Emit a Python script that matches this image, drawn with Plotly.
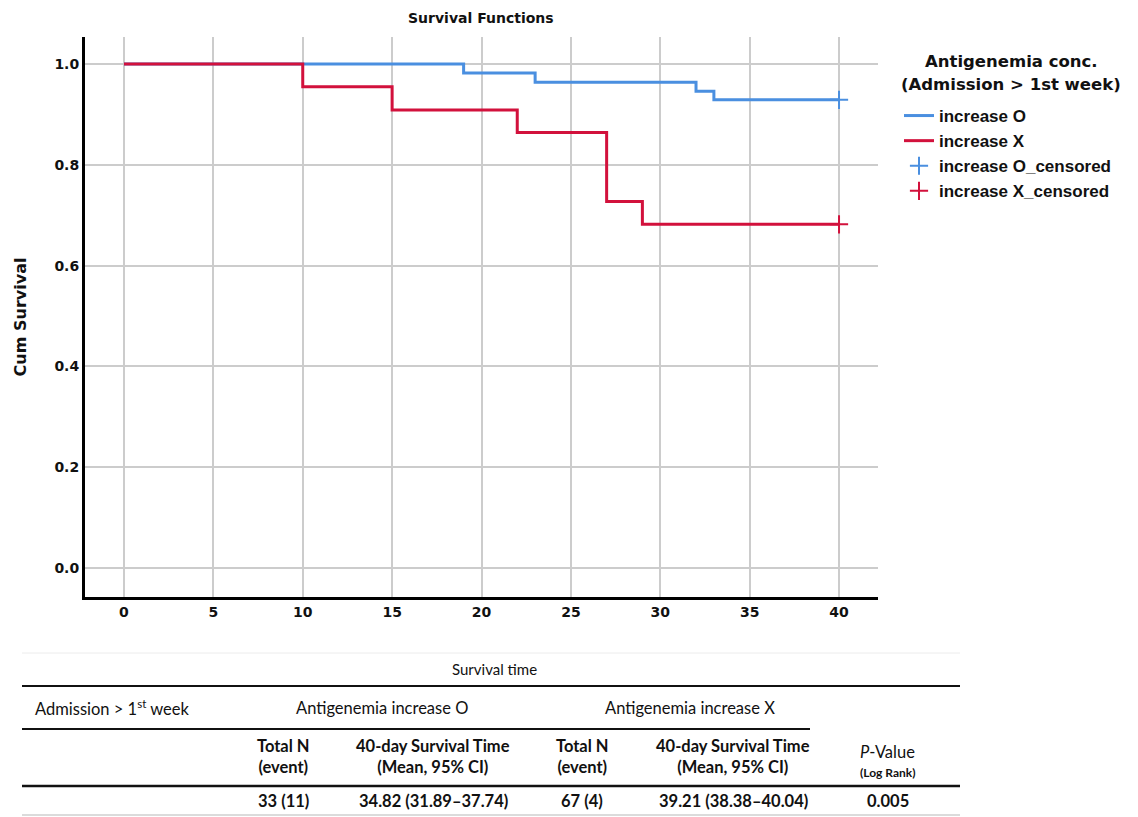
import plotly.graph_objects as go

# ---------------- data ----------------
time_o = [0, 19, 23, 32, 33, 40]
surv_o = [1.0, 0.982, 0.964, 0.946, 0.929, 0.929]
time_x = [0, 10, 15, 22, 27, 29, 40]
surv_x = [1.0, 0.955, 0.909, 0.864, 0.727, 0.682, 0.682]
cens_o_t = [40]
cens_o_s = [0.929]
cens_x_t = [40]
cens_x_s = [0.682]

series_names = ["increase O", "increase X", "increase O_censored", "increase X_censored"]
legend_title = ["Antigenemia conc.", "(Admission > 1st week)"]
x_ticks = [0, 5, 10, 15, 20, 25, 30, 35, 40]
y_ticks = [0.0, 0.2, 0.4, 0.6, 0.8, 1.0]

table_super = "Survival time"
table_row_label = "Admission > 1<sup>st</sup> week"
group_labels = ["Antigenemia increase O", "Antigenemia increase X"]
sub_headers = ["<b>Total N<br>(event)</b>", "<b>40-day Survival Time<br>(Mean, 95% CI)</b>",
               "<b>Total N<br>(event)</b>", "<b>40-day Survival Time<br>(Mean, 95% CI)</b>"]
row_values = ["33 (11)", "34.82 (31.89–37.74)", "67 (4)", "39.21 (38.38–40.04)"]
p_value = "0.005"

BLUE = "#4a8fe0"
RED = "#d2113c"

# ---------------- layout geometry (page pixels) ----------------
W, H = 1138, 817
PL, PR, PT, PB = 85, 878, 37, 597   # plot area


def px(x):
    return (x - PL) / (PR - PL)


def py(y):
    return (PB - y) / (PB - PT)


fig = go.Figure()
fig.add_trace(go.Scatter(x=time_o, y=surv_o, mode="lines", line=dict(color=BLUE, width=3, shape="hv"),
                         name=series_names[0]))
fig.add_trace(go.Scatter(x=time_x, y=surv_x, mode="lines", line=dict(color=RED, width=3, shape="hv"),
                         name=series_names[1]))
fig.add_trace(go.Scatter(x=cens_o_t, y=cens_o_s, mode="markers",
                         marker=dict(symbol="cross-thin", size=13, line=dict(color=BLUE, width=2)),
                         name=series_names[2]))
fig.add_trace(go.Scatter(x=cens_x_t, y=cens_x_s, mode="markers",
                         marker=dict(symbol="cross-thin", size=13, line=dict(color=RED, width=2)),
                         name=series_names[3]))

axis_font = dict(family="DejaVu Sans", size=14, color="#111")
fig.update_xaxes(range=[-2.18, 42.18], tickvals=x_ticks, ticktext=[f"<b>{v}</b>" for v in x_ticks],
                 showgrid=True, gridcolor="#cccccc", gridwidth=1.5, zeroline=False,
                 showline=True, linecolor="black", linewidth=3, ticks="", tickfont=axis_font)
fig.update_yaxes(range=[-0.0575, 1.0536], tickvals=y_ticks, ticktext=[f"<b>{v:.1f}</b>" for v in y_ticks],
                 showgrid=True, gridcolor="#cccccc", gridwidth=1.5, zeroline=False,
                 showline=True, linecolor="black", linewidth=3, ticks="", tickfont=axis_font,
                 title=dict(text="<b>Cum Survival</b>", font=dict(family="DejaVu Sans", size=16, color="#111"),
                            standoff=24))

annotations = []
annotations.append(dict(x=px(481), y=py(18), text="<b>Survival Functions</b>",
                        font=dict(family="DejaVu Sans", size=14, color="#111")))
annotations.append(dict(x=px(1011), y=py(62), text=f"<b>{legend_title[0]}</b>",
                        font=dict(family="DejaVu Sans", size=16.5, color="#111")))
annotations.append(dict(x=px(1011), y=py(84), text=f"<b>{legend_title[1]}</b>",
                        font=dict(family="DejaVu Sans", size=16.5, color="#111")))

tfont = dict(family="Lato", size=16.5, color="#111")
annotations.append(dict(x=px(494), y=py(669), text=table_super, font=dict(family="Lato", size=15, color="#111")))
annotations.append(dict(x=px(33), y=py(708), text=table_row_label, font=tfont, xanchor="left"))
annotations.append(dict(x=px(382), y=py(708), text=group_labels[0], font=tfont))
annotations.append(dict(x=px(690), y=py(708), text=group_labels[1], font=tfont))
annotations.append(dict(x=px(888), y=py(752), text="<i>P</i>-Value", font=tfont))
annotations.append(dict(x=px(888), y=py(772), text="<b>(Log Rank)</b>", font=dict(family="Lato", size=12, color="#111")))
col_x = [283, 433, 582, 733]
for cx, sh in zip(col_x, sub_headers):
    annotations.append(dict(x=px(cx), y=py(757), text=sh, font=tfont))
for cx, rv in zip(col_x, row_values):
    annotations.append(dict(x=px(cx), y=py(801), text=f"<b>{rv}</b>", font=tfont))
annotations.append(dict(x=px(888), y=py(801), text=f"<b>{p_value}</b>", font=tfont))
for a in annotations:
    a.setdefault("xref", "paper")
    a.setdefault("yref", "paper")
    a.setdefault("showarrow", False)
    a.setdefault("xanchor", "center")
    a.setdefault("yanchor", "middle")

shapes = []


def hline(x0, x1, y, color, width):
    shapes.append(dict(type="line", xref="paper", yref="paper", x0=px(x0), x1=px(x1), y0=py(y), y1=py(y),
                       line=dict(color=color, width=width)))


hline(22, 960, 653, "#ececec", 1)
hline(22, 960, 686, "#111111", 2)
hline(22, 810, 729, "#111111", 2)
hline(22, 960, 786, "#111111", 2.5)
hline(22, 960, 815, "#cfcfcf", 1.5)

fig.update_layout(
    width=W, height=H,
    margin=dict(l=PL, r=W - PR, t=PT, b=H - PB),
    plot_bgcolor="white", paper_bgcolor="white",
    annotations=annotations, shapes=shapes,
    legend=dict(x=px(899), y=py(98), xanchor="left", yanchor="top",
                font=dict(family="Liberation Sans", size=17, color="#111", weight="bold"),
                itemwidth=30, tracegroupgap=0, bgcolor="rgba(0,0,0,0)"),
)

fig.write_html("out.html", config={"displayModeBar": False},
               post_script="document.body.style.margin='0';document.body.style.overflow='hidden';")
